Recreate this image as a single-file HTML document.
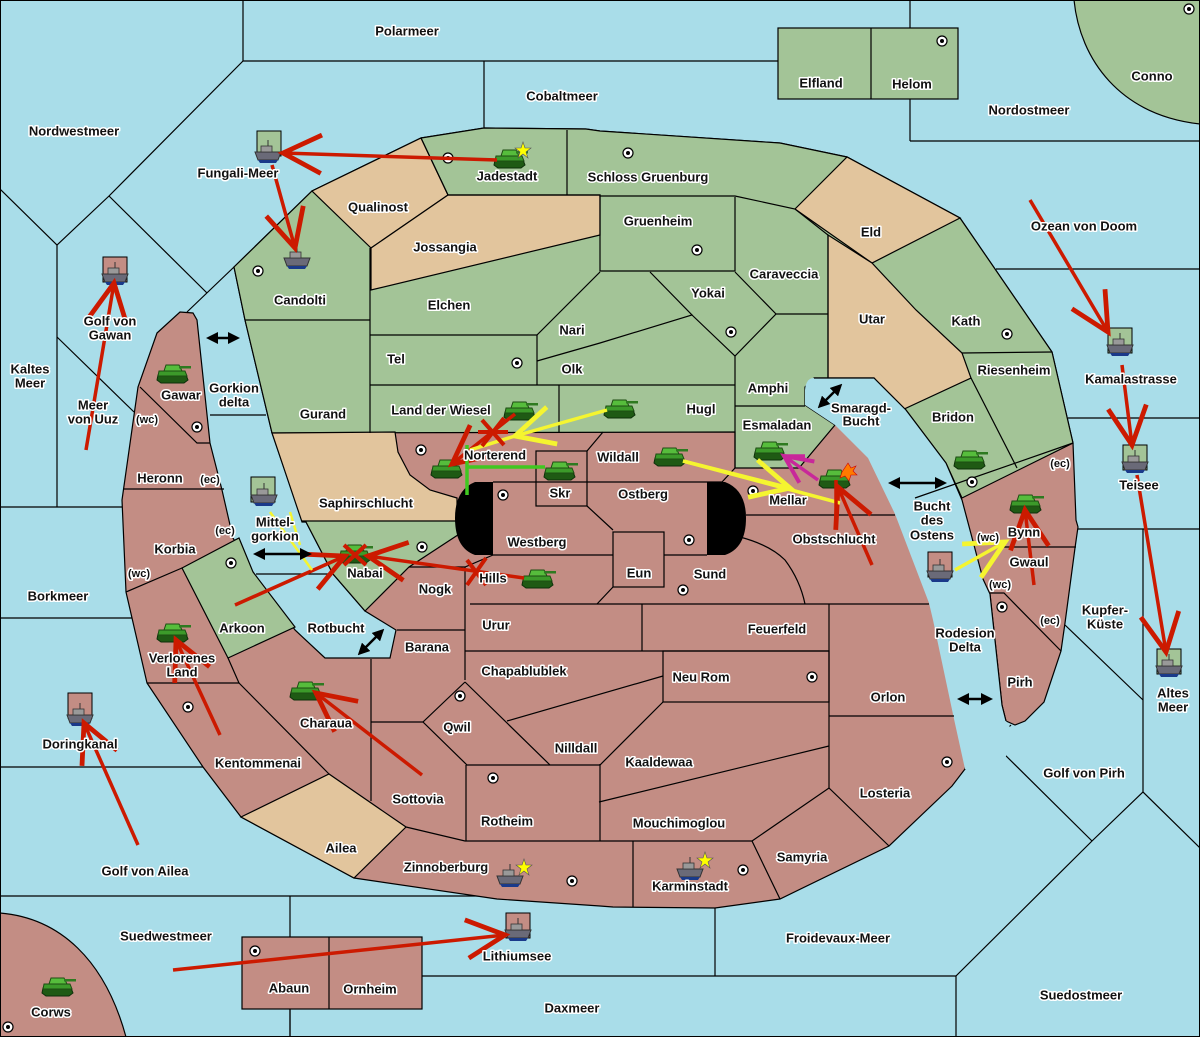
<!DOCTYPE html>
<html><head><meta charset="utf-8"><style>
html,body{margin:0;padding:0;background:#a9dde9;}
svg{display:block}
text{font-family:"Liberation Sans",sans-serif;font-weight:bold;font-size:13px;fill:#111;stroke:#fff;stroke-width:3px;paint-order:stroke;stroke-linejoin:round;text-anchor:middle;dominant-baseline:middle}
.s{fill:none;stroke:#000;stroke-width:1.2}
</style></head><body>
<svg width="1200" height="1037" viewBox="0 0 1200 1037" xmlns="http://www.w3.org/2000/svg">
<defs>
<marker id="ar" markerUnits="userSpaceOnUse" markerWidth="48" markerHeight="48" refX="34" refY="18" orient="auto" viewBox="0 0 40 36"><path d="M2,2 L34,18 L2,34" fill="none" stroke="#cc1a00" stroke-width="4"/></marker>
<marker id="ay" markerUnits="userSpaceOnUse" markerWidth="48" markerHeight="48" refX="34" refY="18" orient="auto" viewBox="0 0 40 36"><path d="M2,2 L34,18 L2,34" fill="none" stroke="#f5f530" stroke-width="4"/></marker>
<marker id="am" markerUnits="userSpaceOnUse" markerWidth="40" markerHeight="40" refX="30" refY="15" orient="auto" viewBox="0 0 40 30"><path d="M2,2 L30,15 L2,28" fill="none" stroke="#c8289a" stroke-width="4"/></marker>
<marker id="ab" markerUnits="userSpaceOnUse" markerWidth="12" markerHeight="12" refX="6" refY="6" orient="auto-start-reverse" viewBox="0 0 12 12"><path d="M0,0 L12,6 L0,12 Z" fill="#000"/></marker>
<g id="tank"><path d="M-15,2 L13,2 L15,7 L11,10 L-12,10 L-16,7 Z" fill="#1f5a14" stroke="#0e300a" stroke-width="1"/><path d="M-14,-2 L12,-2 L14,3 L-15,3 Z" fill="#3c9a2a" stroke="#1d4d12" stroke-width="1"/><path d="M-7,-8 L6,-8 L9,-2 L-9,-2 Z" fill="#56bd3c" stroke="#1d4d12" stroke-width="1"/><rect x="6" y="-7" width="12" height="2.5" fill="#2e7a20"/></g>
<g id="ship"><path d="M-13,0 L13,0 L10,8 L-10,8 Z" fill="#6a6a78" stroke="#333" stroke-width="1"/><rect x="-7" y="-6" width="11" height="6" fill="#999" stroke="#333" stroke-width="0.8"/><line x1="0" y1="-12" x2="0" y2="-6" stroke="#333"/><path d="M-10,8 L10,8 L8,11 L-8,11 Z" fill="#1a3a8a"/></g>
<g id="sc"><circle r="5" fill="#fff" stroke="#000" stroke-width="1.2"/><circle r="2" fill="#000"/></g>
</defs>
<rect width="1200" height="1037" fill="#a9dde9"/>
<g class="s">
<polyline points="243,0 243,61 778,61"/>
<polyline points="243,61 109,196 57,245 0,189"/>
<line x1="57" y1="245" x2="57" y2="507"/>
<polyline points="109,196 207,293"/>
<line x1="187" y1="312" x2="234" y2="267"/>
<line x1="57" y1="337" x2="134" y2="412"/>
<line x1="0" y1="507" x2="122" y2="507"/>
<line x1="0" y1="618" x2="132" y2="618"/>
<line x1="0" y1="767" x2="203" y2="767"/>
<line x1="0" y1="896" x2="530" y2="896"/>
<line x1="290" y1="896" x2="290" y2="1037"/>
<line x1="484" y1="61" x2="484" y2="128"/>
<line x1="910" y1="0" x2="910" y2="28"/>
<line x1="910" y1="99" x2="910" y2="141"/>
<line x1="910" y1="141" x2="1200" y2="141"/>
<line x1="996" y1="269" x2="1200" y2="269"/>
<line x1="1068" y1="418" x2="1200" y2="418"/>
<line x1="1078" y1="529" x2="1200" y2="529"/>
<line x1="1143" y1="529" x2="1143" y2="792"/>
<line x1="1065" y1="625" x2="1143" y2="700"/>
<polyline points="956,1037 956,976 1092,841 1143,792 1200,848"/>
<polyline points="965,769 1011,725"/>
<line x1="994" y1="744" x2="1092" y2="841"/>
<line x1="715" y1="908" x2="715" y2="976"/>
<line x1="422" y1="976" x2="956" y2="976"/>
<line x1="210" y1="415" x2="266" y2="415"/>
<line x1="256" y1="574" x2="329" y2="574"/>
<line x1="870" y1="463" x2="946" y2="463"/>
<line x1="935" y1="622" x2="990" y2="622"/>
</g>
<path d="M1074,0 C1080,60 1120,115 1200,124 L1200,0 Z" fill="#a3c497" stroke="#000" stroke-width="1.2"/>
<rect x="778" y="28" width="180" height="71" fill="#a3c497" stroke="#000" stroke-width="1.2"/>
<line x1="871" y1="28" x2="871" y2="99" stroke="#000" stroke-width="1.2"/>
<path d="M0,913 C60,918 105,960 126,1037 L0,1037 Z" fill="#c38d84" stroke="#000" stroke-width="1.2"/>
<rect x="242" y="937" width="180" height="72" fill="#c38d84" stroke="#000" stroke-width="1.2"/>
<line x1="329" y1="937" x2="329" y2="1009" stroke="#000" stroke-width="1.2"/>
<line x1="290" y1="1009" x2="290" y2="1037" stroke="#000" stroke-width="1.2"/>
<polygon fill="#c38d84" stroke="#000" stroke-width="1.2" points="234,267 312,191 421,138 484,128 586,129 600,131 780,143 847,157 960,218 1052,352 1073,443 1076,520 1078,527 1075,548 1065,623 1061,651 1044,702 1025,721 1015,725 1006,721 1002,705 990,594 975,700 965,769 952,786 889,846 780,899 715,908 613,907 600,906 497,899 354,878 241,817 203,767 147,683 126,592 122,500 138,387 157,333 180,312 193,313 197,320 210,443 222,490 233,538 253,572 295,630 325,658 390,658 396,630 365,611 333,574 306,522 302,520 272,433 245,320"/>
<polygon fill="#a3c497" stroke="#000" stroke-width="1.2" points="234,267 312,191 421,138 484,128 586,129 600,131 780,143 847,157 960,218 1052,352 1073,443 962,498 946,463 906,410 874,378 814,378 805,387 805,405 835,425 799,468 735,468 735,432 272,433 245,320"/>
<g fill="#e2c59d" stroke="#000" stroke-width="1.2">
<polygon points="312,191 421,138 448,195 371,248"/>
<polygon points="371,248 448,195 600,195 600,235 371,290"/>
<polygon points="795,209 847,157 960,218 872,263"/>
<polygon points="828,235 872,263 916,310 962,353 971,378 902,410 874,378 828,378"/>
<polygon points="272,433 395,432 398,452 410,475 430,490 457,498 457,522 302,522"/>
<polygon points="241,817 329,774 406,827 354,878"/>
</g>
<g fill="#a3c497" stroke="#000" stroke-width="1.2">
<polygon points="302,521 460,521 470,527 409,567 365,611 333,574 306,522"/>
<polygon points="182,568 239,538 253,572 295,627 228,658"/>
</g>
<path d="M814,378 L874,378 L906,410 L946,463 L962,500 L983,579 L990,594 L1002,705 L1006,721 L1015,735 L1000,770 L965,769 L954,719 L933,620 L929,603 L895,514 L868,458 L835,425 L805,405 L805,390 Q806,378 814,378 Z" fill="#a9dde9"/>
<polyline class="s" points="1006,721 1002,705 990,594 983,579 962,500 946,463 906,410 874,378 814,378 Q806,378 805,390 L805,405 L835,425 L868,458 L895,514 L929,603 L933,620 L954,719 L965,769"/>
<g class="s">
<polyline points="421,138 448,195 600,195 600,196 735,196 795,209 828,235 828,378"/>
<line x1="567" y1="130" x2="567" y2="195"/>
<polyline points="600,196 600,271 735,271 735,197"/>
<line x1="370" y1="248" x2="370" y2="433"/>
<line x1="245" y1="320" x2="370" y2="320"/>
<line x1="370" y1="335" x2="537" y2="335"/>
<polyline points="537,335 600,272"/>
<polyline points="537,361 600,343 692,315 650,272"/>
<polyline points="692,315 735,356 776,314 735,272"/>
<line x1="776" y1="314" x2="828" y2="314"/>
<line x1="537" y1="335" x2="537" y2="385"/>
<line x1="370" y1="385" x2="735" y2="385"/>
<line x1="559" y1="385" x2="559" y2="433"/>
<line x1="735" y1="356" x2="735" y2="432"/>
<line x1="735" y1="406" x2="805" y2="406"/>
<line x1="962" y1="353" x2="1052" y2="352"/>
<line x1="971" y1="378" x2="1017" y2="468"/>
<line x1="735" y1="432" x2="735" y2="468"/>
<polyline points="735,468 722,482 493,482"/>
<polyline points="603,432 587,451"/>
<rect x="536" y="451" width="51" height="55"/>
<polyline points="587,506 613,530"/>
<rect x="613" y="532" width="51" height="55"/>
<line x1="493" y1="555" x2="613" y2="555"/>
<line x1="664" y1="555" x2="707" y2="555"/>
<line x1="746" y1="515" x2="895" y2="515"/>
<path d="M740,537 Q770,545 785,560 Q800,580 805,604"/>
<line x1="470" y1="604" x2="929" y2="604"/>
<polyline points="613,587 597,604"/>
<polyline points="409,567 465,567 493,555"/>
<line x1="465" y1="567" x2="465" y2="680"/>
<line x1="397" y1="630" x2="465" y2="630"/>
<line x1="371" y1="659" x2="371" y2="801"/>
<line x1="642" y1="604" x2="642" y2="651"/>
<line x1="465" y1="651" x2="829" y2="651"/>
<rect x="663" y="651" width="166" height="51"/>
<line x1="829" y1="604" x2="829" y2="788"/>
<line x1="829" y1="716" x2="954" y2="716"/>
<polyline points="465,682 423,722 467,765 600,765 663,702"/>
<polyline points="465,682 550,765"/>
<line x1="507" y1="721" x2="663" y2="676"/>
<line x1="371" y1="722" x2="423" y2="722"/>
<line x1="600" y1="764" x2="600" y2="841"/>
<line x1="599" y1="802" x2="829" y2="746"/>
<polyline points="406,827 465,841 752,841 829,788 889,846"/>
<line x1="466" y1="765" x2="466" y2="841"/>
<polyline points="752,841 780,899"/>
<line x1="633" y1="841" x2="633" y2="907"/>
<line x1="239" y1="683" x2="329" y2="774"/>
<polyline points="147,683 239,683 228,658"/>
<line x1="126" y1="592" x2="182" y2="568"/>
<line x1="124" y1="489" x2="224" y2="489"/>
<polyline points="140,387 197,443 210,443"/>
<line x1="998" y1="547" x2="1076" y2="547"/>
<polyline points="990,593 1004,593 1061,651"/>
<line x1="915" y1="498" x2="1073" y2="443"/>
</g>
<path d="M493,482 L475,482 Q455,490 455,518 Q455,548 475,555 L493,555 Z" fill="#000"/>
<path d="M707,482 L725,482 Q746,490 746,518 Q746,548 725,555 L707,555 Z" fill="#000"/>
<g>
<use href="#sc" x="448" y="158"/><use href="#sc" x="628" y="153"/><use href="#sc" x="697" y="250"/><use href="#sc" x="258" y="271"/><use href="#sc" x="517" y="363"/><use href="#sc" x="731" y="332"/><use href="#sc" x="1007" y="334"/><use href="#sc" x="197" y="427"/><use href="#sc" x="421" y="450"/><use href="#sc" x="503" y="495"/><use href="#sc" x="422" y="547"/><use href="#sc" x="231" y="563"/><use href="#sc" x="683" y="590"/><use href="#sc" x="689" y="540"/><use href="#sc" x="753" y="491"/><use href="#sc" x="972" y="482"/><use href="#sc" x="188" y="707"/><use href="#sc" x="460" y="696"/><use href="#sc" x="493" y="778"/><use href="#sc" x="572" y="881"/><use href="#sc" x="743" y="870"/><use href="#sc" x="812" y="677"/><use href="#sc" x="947" y="762"/><use href="#sc" x="1002" y="607"/><use href="#sc" x="942" y="41"/><use href="#sc" x="1189" y="9"/><use href="#sc" x="8" y="1027"/><use href="#sc" x="255" y="951"/>
</g>
<g stroke="#000" stroke-width="1">
<rect x="257" y="131" width="24" height="25" fill="#a3c497"/>
<rect x="103" y="257" width="24" height="25" fill="#c38d84"/>
<rect x="251" y="477" width="24" height="25" fill="#a3c497"/>
<rect x="68" y="693" width="24" height="25" fill="#c38d84"/>
<rect x="1108" y="328" width="24" height="25" fill="#a3c497"/>
<rect x="1123" y="445" width="24" height="25" fill="#a3c497"/>
<rect x="1157" y="649" width="24" height="25" fill="#a3c497"/>
<rect x="928" y="552" width="24" height="25" fill="#c38d84"/>
<rect x="506" y="913" width="24" height="25" fill="#c38d84"/>
</g>
<g>
<use href="#ship" x="268" y="152"/><use href="#ship" x="297" y="258"/><use href="#ship" x="115" y="274"/><use href="#ship" x="264" y="495"/><use href="#ship" x="80" y="715"/><use href="#ship" x="1120" y="345"/><use href="#ship" x="1135" y="462"/><use href="#ship" x="1169" y="666"/><use href="#ship" x="940" y="571"/><use href="#ship" x="518" y="930"/><use href="#ship" x="510" y="876"/><use href="#ship" x="690" y="869"/>
</g>
<g>
<use href="#tank" x="510" y="158"/><use href="#tank" x="173" y="373"/><use href="#tank" x="520" y="410"/><use href="#tank" x="620" y="408"/><use href="#tank" x="447" y="468"/><use href="#tank" x="560" y="470"/><use href="#tank" x="670" y="456"/><use href="#tank" x="770" y="450"/><use href="#tank" x="835" y="478"/><use href="#tank" x="970" y="459"/><use href="#tank" x="1026" y="503"/><use href="#tank" x="355" y="553"/><use href="#tank" x="538" y="578"/><use href="#tank" x="173" y="632"/><use href="#tank" x="306" y="690"/><use href="#tank" x="58" y="986"/>
</g>
<g fill="#ffff00" stroke="#555" stroke-width="0.6">
<polygon points="523,142 525,148 531,148 526,152 528,158 523,154 518,158 520,152 515,148 521,148"/>
<polygon points="524,859 526,865 532,865 527,869 529,875 524,871 519,875 521,869 516,865 522,865"/>
<polygon points="705,852 707,858 713,858 708,862 710,868 705,864 700,868 702,862 697,858 703,858"/>
</g>
<polygon points="848,463 851,468 856,466 853,471 857,475 851,475 849,481 845,476 840,478 842,472" fill="#ff7a00" stroke="#c00" stroke-width="0.6"/>
<g stroke-width="3.5" fill="none" stroke-linecap="butt">
<line x1="497" y1="160" x2="283" y2="153" stroke="#cc1a00" marker-end="url(#ar)"/>
<line x1="272" y1="165" x2="295" y2="248" stroke="#cc1a00" marker-end="url(#ar)"/>
<line x1="86" y1="450" x2="114" y2="283" stroke="#cc1a00" marker-end="url(#ar)"/>
<line x1="138" y1="845" x2="84" y2="723" stroke="#cc1a00" marker-end="url(#ar)"/>
<line x1="220" y1="735" x2="176" y2="640" stroke="#cc1a00" marker-end="url(#ar)"/>
<line x1="422" y1="775" x2="316" y2="693" stroke="#cc1a00" marker-end="url(#ar)"/>
<line x1="235" y1="605" x2="345" y2="556" stroke="#cc1a00" marker-end="url(#ar)"/>
<line x1="524" y1="578" x2="368" y2="556" stroke="#cc1a00" marker-end="url(#ar)"/>
<line x1="515" y1="414" x2="452" y2="464" stroke="#cc1a00" marker-end="url(#ar)"/>
<line x1="872" y1="565" x2="838" y2="487" stroke="#cc1a00" marker-end="url(#ar)"/>
<line x1="1034" y1="585" x2="1025" y2="510" stroke="#cc1a00" marker-end="url(#ar)"/>
<line x1="1030" y1="200" x2="1108" y2="332" stroke="#cc1a00" marker-end="url(#ar)"/>
<line x1="1122" y1="365" x2="1132" y2="445" stroke="#cc1a00" marker-end="url(#ar)"/>
<line x1="1137" y1="475" x2="1166" y2="652" stroke="#cc1a00" marker-end="url(#ar)"/>
<line x1="173" y1="970" x2="505" y2="935" stroke="#cc1a00" marker-end="url(#ar)"/>
<line x1="607" y1="410" x2="515" y2="436" stroke="#f5f530" marker-end="url(#ay)"/>
<line x1="515" y1="436" x2="470" y2="450" stroke="#f5f530"/>
<line x1="683" y1="461" x2="840" y2="503" stroke="#f5f530"/>
<line x1="683" y1="461" x2="790" y2="488" stroke="#f5f530" marker-end="url(#ay)"/>
<line x1="955" y1="570" x2="1005" y2="542" stroke="#f5f530" marker-end="url(#ay)"/>
<line x1="270" y1="512" x2="312" y2="570" stroke="#f5f530" stroke-width="2.5"/>
<line x1="290" y1="512" x2="300" y2="545" stroke="#f5f530" stroke-width="2.5"/>
<line x1="818" y1="480" x2="784" y2="456" stroke="#c8289a" marker-end="url(#am)"/>
<line x1="784" y1="456" x2="805" y2="456" stroke="#c8289a"/>
<line x1="545" y1="467" x2="467" y2="467" stroke="#40c820"/>
<line x1="467" y1="445" x2="467" y2="495" stroke="#40c820"/>
<line x1="836" y1="480" x2="836" y2="515" stroke="#cc1a00"/>
</g>
<g stroke="#cc1a00" stroke-width="4">
<line x1="482" y1="420" x2="504" y2="445"/><line x1="504" y1="418" x2="482" y2="446"/><line x1="478" y1="432" x2="508" y2="432"/>
<line x1="467" y1="560" x2="486" y2="585"/><line x1="486" y1="558" x2="467" y2="585"/>
<line x1="344" y1="545" x2="366" y2="565"/><line x1="366" y1="545" x2="344" y2="565"/>
</g>
<g stroke="#000" stroke-width="2.5" marker-start="url(#ab)" marker-end="url(#ab)">
<line x1="212" y1="338" x2="234" y2="338"/>
<line x1="822" y1="404" x2="838" y2="388"/>
<line x1="894" y1="483" x2="941" y2="483"/>
<line x1="963" y1="699" x2="987" y2="699"/>
<line x1="362" y1="651" x2="380" y2="633"/>
<line x1="259" y1="554" x2="306" y2="554"/>
</g>
<g>
<text x="407" y="32">Polarmeer</text><text x="562" y="97">Cobaltmeer</text><text x="821" y="84">Elfland</text><text x="912" y="85">Helom</text><text x="1152" y="77">Conno</text><text x="1029" y="111">Nordostmeer</text><text x="74" y="132">Nordwestmeer</text><text x="238" y="174">Fungali-Meer</text><text x="507" y="177">Jadestadt</text><text x="648" y="178">Schloss Gruenburg</text><text x="378" y="208">Qualinost</text><text x="445" y="248">Jossangia</text><text x="658" y="222">Gruenheim</text><text x="871" y="233">Eld</text><text x="1084" y="227">Ozean von Doom</text><text x="784" y="275">Caraveccia</text><text x="300" y="301">Candolti</text><text x="449" y="306">Elchen</text><text x="708" y="294">Yokai</text><text x="872" y="320">Utar</text><text x="966" y="322">Kath</text><text x="572" y="331">Nari</text><text x="110" y="322">Golf von</text><text x="110" y="336">Gawan</text><text x="396" y="360">Tel</text><text x="572" y="370">Olk</text><text x="30" y="370">Kaltes</text><text x="30" y="384">Meer</text><text x="1014" y="371">Riesenheim</text><text x="1131" y="380">Kamalastrasse</text><text x="768" y="389">Amphi</text><text x="181" y="396">Gawar</text><text x="234" y="389">Gorkion</text><text x="234" y="403">delta</text><text x="93" y="406">Meer</text><text x="93" y="420">von Uuz</text><text x="147" y="420" style="font-size:11px">(wc)</text><text x="441" y="411">Land der Wiesel</text><text x="701" y="410">Hugl</text><text x="861" y="409">Smaragd-</text><text x="861" y="422">Bucht</text><text x="323" y="415">Gurand</text><text x="953" y="418">Bridon</text><text x="777" y="426">Esmaladan</text><text x="495" y="456">Norterend</text><text x="618" y="458">Wildall</text><text x="160" y="479">Heronn</text><text x="210" y="480" style="font-size:11px">(ec)</text><text x="1139" y="486">Teisee</text><text x="1060" y="464" style="font-size:11px">(ec)</text><text x="643" y="495">Ostberg</text><text x="560" y="494">Skr</text><text x="788" y="501">Mellar</text><text x="366" y="504">Saphirschlucht</text><text x="932" y="507">Bucht</text><text x="932" y="521">des</text><text x="932" y="536">Ostens</text><text x="275" y="523">Mittel-</text><text x="275" y="537">gorkion</text><text x="1024" y="533">Bynn</text><text x="988" y="538" style="font-size:11px">(wc)</text><text x="537" y="543">Westberg</text><text x="834" y="540">Obstschlucht</text><text x="175" y="550">Korbia</text><text x="225" y="531" style="font-size:11px">(ec)</text><text x="365" y="574">Nabai</text><text x="493" y="579">Hills</text><text x="639" y="574">Eun</text><text x="710" y="575">Sund</text><text x="139" y="574" style="font-size:11px">(wc)</text><text x="1029" y="563">Gwaul</text><text x="1000" y="585" style="font-size:11px">(wc)</text><text x="435" y="590">Nogk</text><text x="58" y="597">Borkmeer</text><text x="1105" y="611">Kupfer-</text><text x="1105" y="625">Küste</text><text x="1050" y="621" style="font-size:11px">(ec)</text><text x="496" y="626">Urur</text><text x="777" y="630">Feuerfeld</text><text x="242" y="629">Arkoon</text><text x="336" y="629">Rotbucht</text><text x="182" y="659">Verlorenes</text><text x="182" y="673">Land</text><text x="965" y="634">Rodesion</text><text x="965" y="648">Delta</text><text x="427" y="648">Barana</text><text x="524" y="672">Chapablublek</text><text x="701" y="678">Neu Rom</text><text x="1020" y="683">Pirh</text><text x="1173" y="694">Altes</text><text x="1173" y="708">Meer</text><text x="888" y="698">Orlon</text><text x="326" y="724">Charaua</text><text x="457" y="728">Qwil</text><text x="80" y="745">Doringkanal</text><text x="576" y="749">Nilldall</text><text x="659" y="763">Kaaldewaa</text><text x="258" y="764">Kentommenai</text><text x="1084" y="774">Golf von Pirh</text><text x="885" y="794">Losteria</text><text x="418" y="800">Sottovia</text><text x="507" y="822">Rotheim</text><text x="679" y="824">Mouchimoglou</text><text x="341" y="849">Ailea</text><text x="802" y="858">Samyria</text><text x="446" y="868">Zinnoberburg</text><text x="145" y="872">Golf von Ailea</text><text x="690" y="887">Karminstadt</text><text x="166" y="937">Suedwestmeer</text><text x="838" y="939">Froidevaux-Meer</text><text x="517" y="957">Lithiumsee</text><text x="289" y="989">Abaun</text><text x="370" y="990">Ornheim</text><text x="1081" y="996">Suedostmeer</text><text x="572" y="1009">Daxmeer</text><text x="51" y="1013">Corws</text>
</g>
<rect x="0.5" y="0.5" width="1199" height="1036" fill="none" stroke="#000"/>
</svg>
</body></html>
